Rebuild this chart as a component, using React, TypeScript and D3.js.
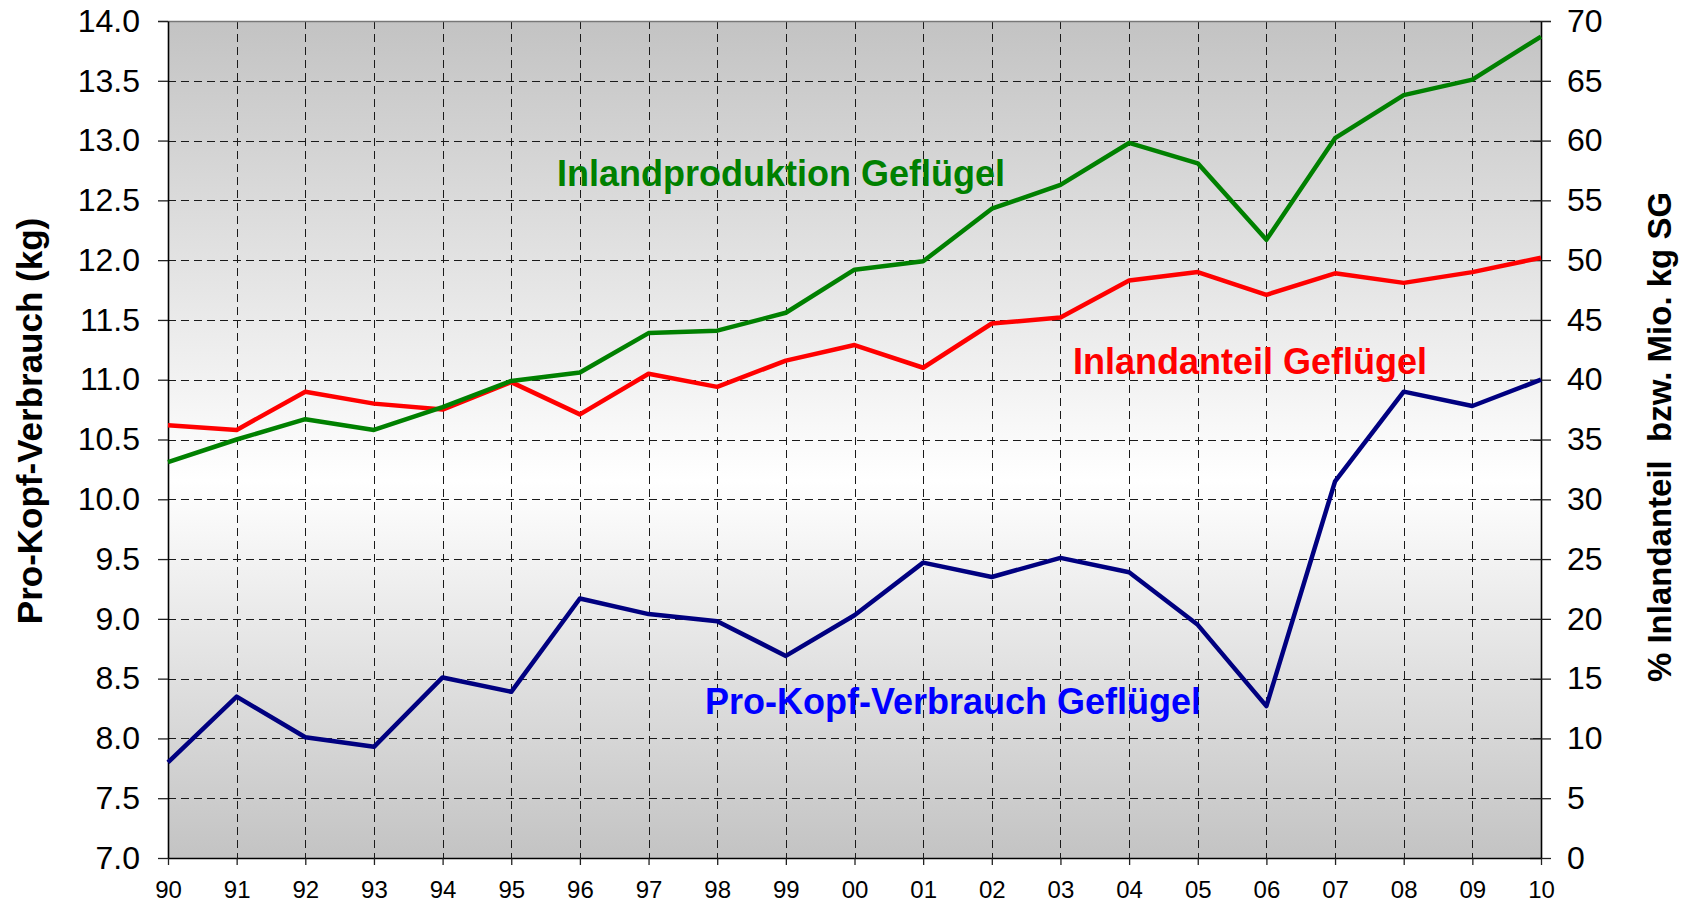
import React, { useRef, useEffect } from 'react';
import * as d3 from 'd3';

// years 1990..2010, labels shown as two digits
const years = [
  1990, 1991, 1992, 1993, 1994, 1995, 1996, 1997, 1998, 1999, 2000,
  2001, 2002, 2003, 2004, 2005, 2006, 2007, 2008, 2009, 2010,
];

// Pro-Kopf-Verbrauch Geflügel (kg, left axis)
const proKopf = [
  7.8, 8.35, 8.01, 7.93, 8.51, 8.39, 9.17, 9.04, 8.98, 8.69, 9.03,
  9.47, 9.35, 9.51, 9.39, 8.95, 8.27, 10.15, 10.9, 10.78, 11.0,
];

// Inlandanteil Geflügel (%, right axis)
const inlandanteil = [
  36.2, 35.8, 39.0, 38.0, 37.5, 39.8, 37.1, 40.5, 39.4, 41.6, 42.9,
  41.0, 44.7, 45.2, 48.3, 49.0, 47.1, 48.9, 48.1, 49.0, 50.2,
];

// Inlandproduktion Geflügel (Mio. kg SG, right axis)
const inlandproduktion = [
  33.1, 35.0, 36.7, 35.8, 37.7, 39.9, 40.6, 43.9, 44.1, 45.6, 49.2,
  49.9, 54.3, 56.3, 59.8, 58.1, 51.7, 60.2, 63.8, 65.1, 68.7,
];

const leftTicks = [7, 7.5, 8, 8.5, 9, 9.5, 10, 10.5, 11, 11.5, 12, 12.5, 13, 13.5, 14];
const rightTicks = [0, 5, 10, 15, 20, 25, 30, 35, 40, 45, 50, 55, 60, 65, 70];

const FONT = '"Liberation Sans", Arial, Helvetica, sans-serif';

const Chart = () => {
  const svgRef = useRef(null);

  useEffect(() => {
    const width = 1684;
    const height = 906;
    const margin = { top: 21, right: 143, bottom: 48, left: 168 };
    const svg = d3.select(svgRef.current);
    svg.selectAll('*').remove();

    const x = d3
      .scaleLinear()
      .domain([years[0], years[years.length - 1]])
      .range([margin.left, width - margin.right]);
    const yL = d3.scaleLinear().domain([7, 14]).range([height - margin.bottom, margin.top]);
    const yR = d3.scaleLinear().domain([0, 70]).range([height - margin.bottom, margin.top]);

    const x0 = margin.left;
    const x1 = width - margin.right;
    const y0 = height - margin.bottom;
    const y1 = margin.top;

    // background gradient grey - white - grey
    const grad = svg
      .append('defs')
      .append('linearGradient')
      .attr('id', 'bg')
      .attr('x1', 0)
      .attr('y1', 0)
      .attr('x2', 0)
      .attr('y2', 1);
    grad.append('stop').attr('offset', '0%').attr('stop-color', '#c3c3c3');
    grad.append('stop').attr('offset', '55%').attr('stop-color', '#ffffff');
    grad.append('stop').attr('offset', '100%').attr('stop-color', '#c3c3c3');

    svg
      .append('rect')
      .attr('x', x0)
      .attr('y', y1)
      .attr('width', x1 - x0)
      .attr('height', y0 - y1)
      .attr('fill', 'url(#bg)');

    // dashed grid
    const grid = svg.append('g').attr('stroke', '#1a1a1a').attr('stroke-width', 1).attr('stroke-dasharray', '8,5');
    grid
      .selectAll('line.h')
      .data(leftTicks.slice(1, -1))
      .join('line')
      .attr('x1', x0)
      .attr('x2', x1)
      .attr('y1', (d) => Math.round(yL(d)) + 0.5)
      .attr('y2', (d) => Math.round(yL(d)) + 0.5);
    grid
      .selectAll('line.v')
      .data(years.slice(1, -1))
      .join('line')
      .attr('x1', (d) => Math.round(x(d)) + 0.5)
      .attr('x2', (d) => Math.round(x(d)) + 0.5)
      .attr('y1', y1)
      .attr('y2', y0);

    // top border
    svg
      .append('line')
      .attr('x1', x0 - 10)
      .attr('x2', x1 + 10)
      .attr('y1', y1 + 0.5)
      .attr('y2', y1 + 0.5)
      .attr('stroke', '#777')
      .attr('stroke-width', 1.5);

    // axes
    const styleAxis = (g) => {
      g.selectAll('text').attr('font-family', FONT).attr('fill', '#000');
      g.selectAll('line').attr('stroke', '#222').attr('stroke-width', 1.3);
      g.select('.domain').attr('stroke', '#000').attr('stroke-width', 1.6);
    };

    svg
      .append('g')
      .attr('transform', `translate(${x0},0)`)
      .call(
        d3
          .axisLeft(yL)
          .tickValues(leftTicks)
          .tickFormat(d3.format('.1f'))
          .tickSizeInner(10)
          .tickSizeOuter(0)
          .tickPadding(18)
      )
      .call(styleAxis)
      .call((g) => g.selectAll('text').attr('font-size', 32));

    svg
      .append('g')
      .attr('transform', `translate(${x1},0)`)
      .call(
        d3
          .axisRight(yR)
          .tickValues(rightTicks)
          .tickFormat(d3.format('d'))
          .tickSizeInner(10)
          .tickSizeOuter(0)
          .tickPadding(16)
      )
      .call(styleAxis)
      .call((g) => g.selectAll('.tick line').attr('x1', -11))
      .call((g) => g.selectAll('text').attr('font-size', 32));

    svg
      .append('g')
      .attr('transform', `translate(0,${y0})`)
      .call(
        d3
          .axisBottom(x)
          .tickValues(years)
          .tickFormat((d) => String(d % 100).padStart(2, '0'))
          .tickSizeInner(7)
          .tickSizeOuter(0)
          .tickPadding(16)
      )
      .call(styleAxis)
      .call((g) => g.selectAll('text').attr('font-size', 24));

    // series lines
    const lineL = d3
      .line()
      .x((d, i) => x(years[i]))
      .y((d) => yL(d));
    const lineR = d3
      .line()
      .x((d, i) => x(years[i]))
      .y((d) => yR(d));

    const series = [
      { values: inlandanteil, line: lineR, color: '#ff0000' },
      { values: inlandproduktion, line: lineR, color: '#008000' },
      { values: proKopf, line: lineL, color: '#000080' },
    ];
    svg
      .append('g')
      .selectAll('path')
      .data(series)
      .join('path')
      .attr('d', (s) => s.line(s.values))
      .attr('fill', 'none')
      .attr('stroke', (s) => s.color)
      .attr('stroke-width', 4.5)
      .attr('stroke-linejoin', 'round');

    // series labels
    const labels = [
      { text: 'Inlandproduktion Geflügel', x: 557, y: 186, color: '#008000' },
      { text: 'Inlandanteil Geflügel', x: 1073, y: 374, color: '#ff0000' },
      { text: 'Pro-Kopf-Verbrauch Geflügel', x: 705, y: 714, color: '#0000ff' },
    ];
    svg
      .append('g')
      .selectAll('text')
      .data(labels)
      .join('text')
      .attr('x', (d) => d.x)
      .attr('y', (d) => d.y)
      .attr('fill', (d) => d.color)
      .attr('font-family', FONT)
      .attr('font-weight', 'bold')
      .attr('font-size', 36)
      .text((d) => d.text);

    // axis titles
    svg
      .append('text')
      .attr('transform', 'translate(42,421) rotate(-90)')
      .attr('text-anchor', 'middle')
      .attr('font-family', FONT)
      .attr('font-weight', 'bold')
      .attr('font-size', 35)
      .text('Pro-Kopf-Verbrauch (kg)');

    svg
      .append('text')
      .attr('transform', 'translate(1671,437) rotate(-90)')
      .attr('text-anchor', 'middle')
      .attr('font-family', FONT)
      .attr('font-weight', 'bold')
      .attr('font-size', 33)
      .style('white-space', 'pre')
      .text('% Inlandanteil  bzw. Mio. kg SG');
  }, []);

  return (
    <svg
      ref={svgRef}
      width={1684}
      height={906}
      style={{ position: 'absolute', left: 0, top: 0, background: '#fff', display: 'block' }}
    />
  );
};

export default function App() {
  return <Chart />;
}
